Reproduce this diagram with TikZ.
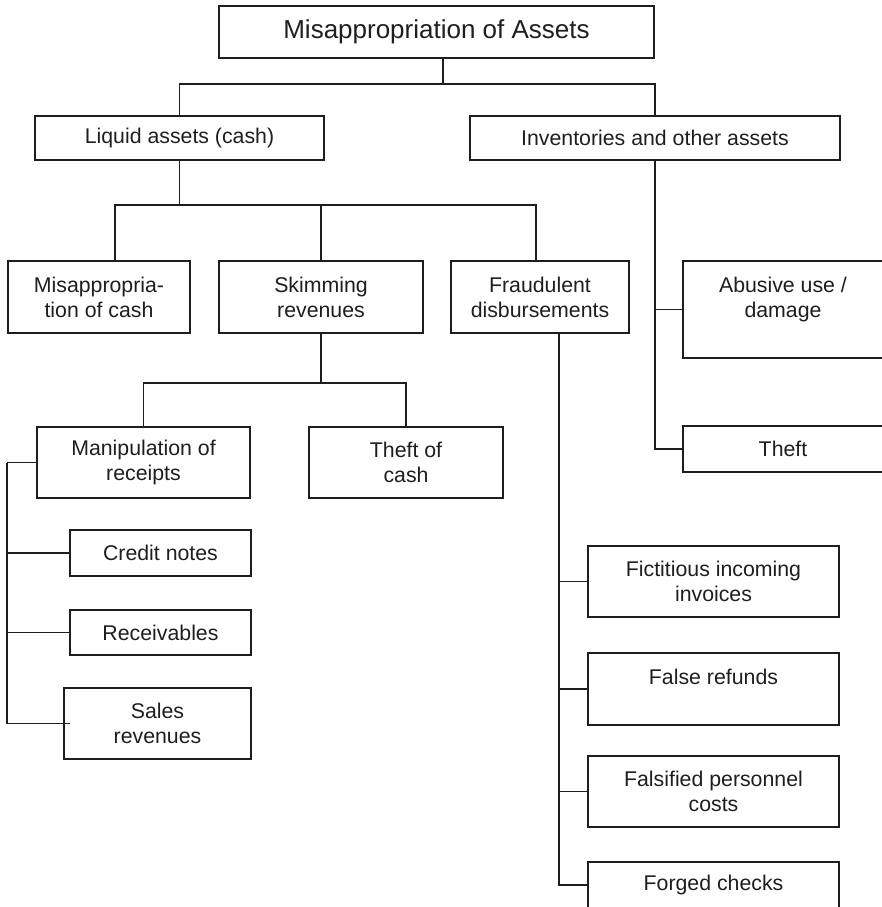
\documentclass[tikz,border=0pt]{standalone}
\usepackage{fontspec}
\setmainfont{Liberation Sans}
\definecolor{ink}{HTML}{1E1E1E}
\begin{document}
\begin{tikzpicture}[x=1pt,y=-1pt,
  box/.style={draw=ink, line width=1.8pt, inner sep=0pt, align=center,
    text=ink, font=\fontsize{21.3}{25}\selectfont},
  titlebox/.style={box, font=\fontsize{26}{30}\selectfont},
  link/.style={draw=ink, line width=1.8pt}]
\useasboundingbox (0,0) rectangle (881,907);

% level 0 and 1
\node[titlebox, minimum width=435pt, minimum height=52pt] (top) at (436.5,32) {Misappropriation of Assets};
\node[box, minimum width=289pt, minimum height=44pt] (liquid) at (179.5,138) {Liquid assets (cash)};
\node[box, minimum width=370pt, minimum height=44pt] (inv) at (655,138) {Inventories and other assets};

% level 2: cash branch
\node[box, minimum width=182pt, minimum height=72pt] (misc) at (99,297) {Misappropria-\\tion of cash};
\node[box, minimum width=204pt, minimum height=72pt] (skim) at (321,297) {Skimming\\revenues};
\node[box, minimum width=178pt, minimum height=72pt] (fraud) at (540,297) {Fraudulent\\disbursements};

% level 2: inventories branch
\node[box, minimum width=200pt, minimum height=97pt] (abuse) at (783,309.5) {Abusive use /\\damage\\\mbox{}};
\node[box, minimum width=200pt, minimum height=46pt] (theft) at (783,449) {Theft};

% skimming children
\node[box, minimum width=213pt, minimum height=71pt] (manip) at (143.5,462.5) {Manipulation of\\receipts};
\node[box, minimum width=194pt, minimum height=71pt] (tcash) at (406,462.5) {Theft of\\cash};
\node[box, minimum width=181pt, minimum height=46pt] (credit) at (160.5,553) {Credit notes};
\node[box, minimum width=181pt, minimum height=45pt] (recv) at (160.5,632.5) {Receivables};
\node[box, minimum width=187pt, minimum height=71pt] (sales) at (157.5,723.5) {Sales\\revenues};

% disbursement children
\node[box, minimum width=251pt, minimum height=71pt] (fict) at (713.5,581.5) {Fictitious incoming\\invoices};
\node[box, minimum width=251pt, minimum height=72pt] (refunds) at (713.5,689) {False refunds\\\mbox{}};
\node[box, minimum width=251pt, minimum height=71pt] (pers) at (713.5,791.5) {Falsified personnel\\costs};
\node[box, minimum width=251pt, minimum height=46pt] (forged) at (713.5,885) {Forged checks};

% connectors
\draw[link] ([xshift=6.5]top.south) -- ++(0,25) coordinate (tj);
\draw[link] (liquid.north) |- (tj) -| (inv.north);

\draw[link] (liquid.south) -- ++(0,44) coordinate (lj);
\draw[link] ([xshift=16]misc.north) |- (lj) -| ([xshift=-4]fraud.north);
\draw[link] (skim.north) -- (skim.north |- lj);

\draw[link] (skim.south) -- ++(0,49) coordinate (sj);
\draw[link] (manip.north) |- (sj) -| (tcash.north);

\draw[link] (manip.west) -- ++(-29,0) coordinate (mj);
\draw[link] (mj) |- ([xshift=7]sales.west);
\draw[link] (mj |- credit.west) -- (credit.west);
\draw[link] (mj |- recv.west) -- (recv.west);

\coordinate (fj) at ([xshift=19]fraud.south);
\draw[link] (fj) |- (forged.west);
\draw[link] (fj |- fict.west) -- (fict.west);
\draw[link] (fj |- refunds.west) -- (refunds.west);
\draw[link] (fj |- pers.west) -- (pers.west);

\draw[link] (inv.south) |- (theft.west);
\draw[link] (inv.south |- abuse.west) -- (abuse.west);
\end{tikzpicture}
\end{document}
